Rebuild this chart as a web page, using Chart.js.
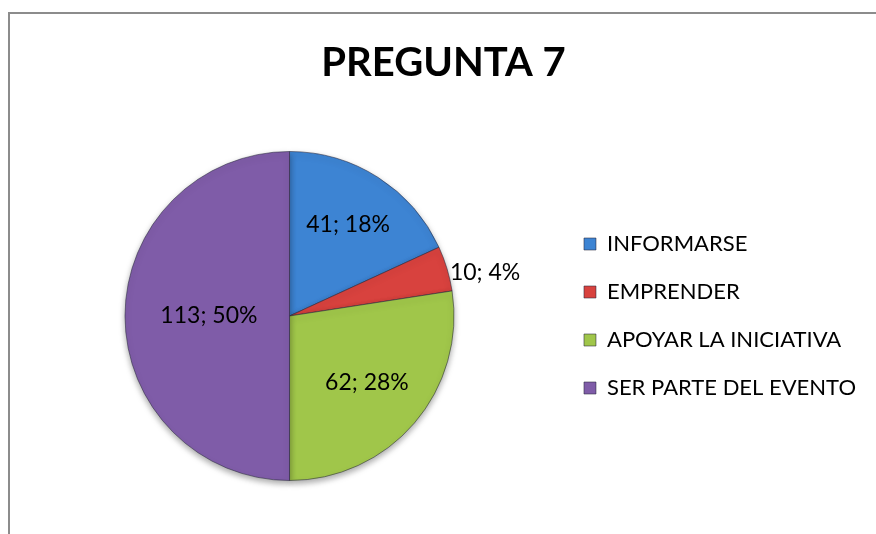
<!DOCTYPE html>
<html>
<head>
<meta charset="utf-8">
<script src="https://cdn.jsdelivr.net/npm/chart.js@4.4.0/dist/chart.umd.min.js"></script>
<style>
  html, body { margin: 0; padding: 0; background: #fff; }
  #wrap { position: relative; width: 876px; height: 534px; overflow: hidden; }
  #frame {
    position: absolute; left: 8px; top: 12px; width: 900px; height: 600px;
    border-left: 2px solid #8c8c8c; border-top: 2px solid #8c8c8c;
  }
  #chart { position: absolute; left: 0; top: 0; }
</style>
</head>
<body>
<div id="wrap">
  <div id="frame"></div>
  <canvas id="chart" width="876" height="534"></canvas>
</div>
<script>
/* Pregunta 7 — pie */
const TITLE = 'PREGUNTA 7';
const labels = ['INFORMARSE', 'EMPRENDER', 'APOYAR LA INICIATIVA', 'SER PARTE DEL EVENTO'];
const counts = [41, 10, 62, 113];
const pcts   = [18, 4, 28, 50];
const colors = ['#3d84d3', '#d8423e', '#a0c64a', '#7f5ca8'];

const FONT = 'Lato, "Open Sans", sans-serif';

// where each value label goes (fraction of radius; >= 1 = outside)
const labelPos = [0.66, 1.0, 0.62, 0.49];

const sliceLabels = {
  id: 'sliceLabels',
  afterDatasetsDraw(chart) {
    const ctx = chart.ctx;
    const arcs = chart.getDatasetMeta(0).data;
    ctx.save();
    ctx.font = `23px ${FONT}`;
    ctx.fillStyle = '#000';
    arcs.forEach((arc, i) => {
      const { x, y, startAngle, endAngle, outerRadius } = arc.getProps(['x', 'y', 'startAngle', 'endAngle', 'outerRadius'], true);
      const mid = (startAngle + endAngle) / 2;
      const txt = `${counts[i]}; ${pcts[i]}%`;
      ctx.textBaseline = 'middle';
      if (labelPos[i] >= 1) {
        const r = outerRadius + 3;
        ctx.textAlign = 'left';
        ctx.fillText(txt, x + Math.cos(mid) * r, y + Math.sin(mid) * r + 5);
      } else {
        const r = outerRadius * labelPos[i];
        ctx.textAlign = 'center';
        ctx.fillText(txt, x + Math.cos(mid) * r, y + Math.sin(mid) * r);
      }
    });
    ctx.restore();
  }
};

const pieShadow = {
  id: 'pieShadow',
  beforeDatasetsDraw(chart) {
    const ctx = chart.ctx;
    ctx.save();
    ctx.shadowColor = 'rgba(0,0,0,0.35)';
    ctx.shadowBlur = 6;
    ctx.shadowOffsetY = 3;
  },
  afterDatasetsDraw(chart) {
    chart.ctx.restore();
  }
};

new Chart(document.getElementById('chart'), {
  type: 'pie',
  data: {
    labels: labels,
    datasets: [{
      data: counts,
      backgroundColor: colors,
      borderColor: 'rgba(40,40,60,0.55)',
      borderWidth: 1
    }]
  },
  options: {
    responsive: false,
    animation: false,
    layout: { padding: { left: 21, right: 10, top: 0, bottom: 53 } },
    plugins: {
      title: {
        display: true,
        text: TITLE,
        color: '#000',
        font: { family: FONT, size: 40, weight: 'bold' },
        padding: { top: 39, bottom: 64 }
      },
      legend: {
        position: 'right',
        fullSize: false,
        labels: {
          color: '#000',
          font: { family: FONT, size: 22 },
          boxWidth: 12,
          boxHeight: 12,
          padding: 26
        }
      },
      tooltip: { enabled: false }
    }
  },
  plugins: [pieShadow, sliceLabels]
});
</script>
</body>
</html>
